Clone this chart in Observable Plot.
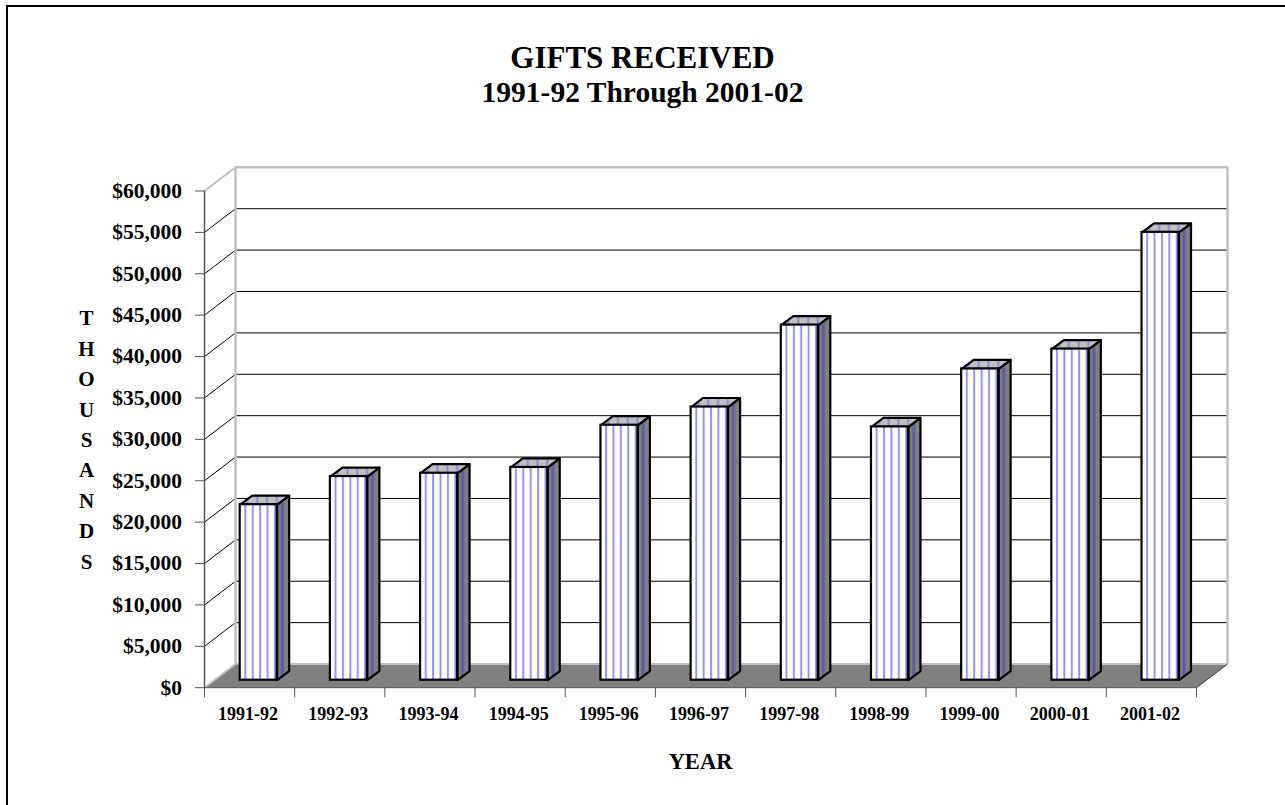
<!DOCTYPE html>
<html><head><meta charset="utf-8">
<script src="https://cdn.jsdelivr.net/npm/d3@7"></script>
<script src="https://cdn.jsdelivr.net/npm/@observablehq/plot@0.6"></script>
<style>
html,body{margin:0;padding:0;background:#fff;overflow:hidden}
#page{position:relative;width:1285px;height:805px;font-family:"Liberation Serif",serif;font-weight:bold;color:#000}
#frame{position:absolute;left:6px;top:5px;width:1279px;height:800px;border-left:2px solid #000;border-top:2px solid #000;box-sizing:border-box;pointer-events:none}
#head{height:140px;text-align:center;box-sizing:border-box;padding-top:40px;padding-right:0}
#head div{line-height:35px;white-space:nowrap}
#l1{font-size:31px}
#l2{font-size:29.5px}
svg text{font-family:"Liberation Serif",serif;font-weight:bold;fill:#000}
</style></head>
<body>
<svg width="0" height="0" style="position:absolute">
<defs>
<pattern id="front" width="0.2" height="1" patternContentUnits="objectBoundingBox"><rect width="0.2" height="1" fill="#fff"/><rect x="0.128" width="0.05" height="1" fill="#8c8cff"/></pattern>
<pattern id="top" width="0.2" height="1" patternContentUnits="objectBoundingBox"><rect width="0.2" height="1" fill="#c0c0c0"/><rect x="0.128" width="0.04" height="1" fill="#8888d8"/></pattern>
<pattern id="side" width="1" height="1" patternContentUnits="objectBoundingBox"><rect width="1" height="1" fill="#808080"/><rect x="0.3" width="0.25" height="1" fill="#5c5ca4"/></pattern>
</defs></svg>
<div id="page">
<div id="frame"></div>
<div id="head"><div id="l1">GIFTS RECEIVED</div><div id="l2">1991-92 Through 2001-02</div></div>
<div id="chart"></div>
</div>
<script>
const years = ["1991-92","1992-93","1993-94","1994-95","1995-96","1996-97","1997-98","1998-99","1999-00","2000-01","2001-02"];
const gifts = [21200,24600,25000,25700,30800,33000,42900,30600,37600,40000,54100];
const yTicks = [0,5000,10000,15000,20000,25000,30000,35000,40000,45000,50000,55000,60000];
const yTitle = "THOUSANDS";
const xTitle = "YEAR";

// depth of the 3D box, in scale units
const wallX = 0.344, wallY = 2860;
const barLeft = 0.396, barWidth = 0.41, barX = 0.133, barY = 1090, barLift = -7.5;
const rows = years.map((year,i)=>({year,i,v:gifts[i],x1:i+barLeft,x2:i+barLeft+barWidth}));
const face = (pts)=>rows.flatMap(r=>pts(r).map(([x,y])=>({x,y,year:r.year})));
const topFace = face(r=>[[r.x1,r.v],[r.x2,r.v],[r.x2+barX,r.v+barY],[r.x1+barX,r.v+barY]]);
const sideFace = face(r=>[[r.x2,0],[r.x2+barX,barY],[r.x2+barX,r.v+barY],[r.x2,r.v]]);
const floor = [[0,0],[wallX,wallY],[11+wallX,wallY],[11,0]].map(([x,y])=>({x,y}));
const ink = "#555";

const plot = Plot.plot({
  width:1285, height:665,
  marginLeft:204, marginRight:89, marginTop:50.5, marginBottom:117.8,
  style:{background:"transparent",overflow:"visible"},
  x:{type:"linear",domain:[0,11],axis:null},
  y:{domain:[0,60000],axis:null},
  marks:[
    // floor
    Plot.line(floor,{x:"x",y:"y",curve:"linear-closed",fill:"#808080",stroke:"none"}),
    // back wall grid
    Plot.ruleY(yTicks.slice(1,-1),{x1:wallX,x2:11+wallX,y:d=>d+wallY,stroke:"#000",strokeWidth:1}),
    Plot.link(yTicks.slice(1,-1),{x1:0,x2:wallX,y1:d=>d,y2:d=>d+wallY,stroke:"#000",strokeWidth:1}),
    // walls
    Plot.ruleY([60000],{x1:wallX,x2:11+wallX,y:d=>d+wallY,stroke:"#c0c0c0",strokeWidth:2.5}),
    Plot.ruleY([0],{x1:wallX,x2:11+wallX,y:d=>d+wallY,stroke:"#c0c0c0",strokeWidth:2}),
    Plot.ruleX([wallX,11+wallX],{y1:wallY,y2:60000+wallY,stroke:"#c0c0c0",strokeWidth:2.5}),
    Plot.link([0,60000],{x1:0,x2:wallX,y1:d=>d,y2:d=>d+wallY,stroke:"#c0c0c0",strokeWidth:2}),
    Plot.link([11],{x1:d=>d,x2:d=>d+wallX,y1:0,y2:wallY,stroke:"#333",strokeWidth:1}),
    // axes
    Plot.ruleY([0],{x1:0,x2:11,stroke:ink,strokeWidth:1}),
    Plot.ruleX([0],{y1:0,y2:60000,stroke:ink,strokeWidth:1.5}),
    Plot.axisY({ticks:yTicks,tickFormat:d=>"$"+d3.format(",")(d),label:null,tickSize:9,tickPadding:13.5,
      fontSize:21.5,stroke:ink,strokeWidth:1}),
    Plot.axisX({ticks:d3.range(0,12),tickFormat:()=>"",label:null,tickSize:10,stroke:ink,strokeWidth:1,tickPadding:0}),
    Plot.axisX({ticks:d3.range(11).map(i=>i+0.5),tickFormat:(d)=>years[Math.floor(d)],label:null,tickSize:0,tickPadding:20,fontSize:18,dx:-1.5}),
    // bars
    Plot.line(sideFace,{x:"x",y:"y",z:"year",curve:"linear-closed",fill:"url(#side)",stroke:"#000",strokeWidth:2.2,dy:barLift}),
    Plot.line(topFace,{x:"x",y:"y",z:"year",curve:"linear-closed",fill:"url(#top)",stroke:"#000",strokeWidth:2.2,dy:barLift}),
    Plot.rect(rows,{x1:"x1",x2:"x2",y1:0,y2:"v",fill:"url(#front)",stroke:"#000",strokeWidth:2.2,dy:barLift}),
    // titles
    Plot.text([yTitle.split("").join("\n")],{frameAnchor:"left",text:d=>d,lineHeight:1.448,fontSize:21,dx:-118,textAnchor:"middle",dy:-2}),
    Plot.text([xTitle],{frameAnchor:"bottom",text:d=>d,fontSize:22.5,dy:81,dx:0})
  ]
});
document.getElementById("chart").appendChild(plot);
</script>
</body></html>
